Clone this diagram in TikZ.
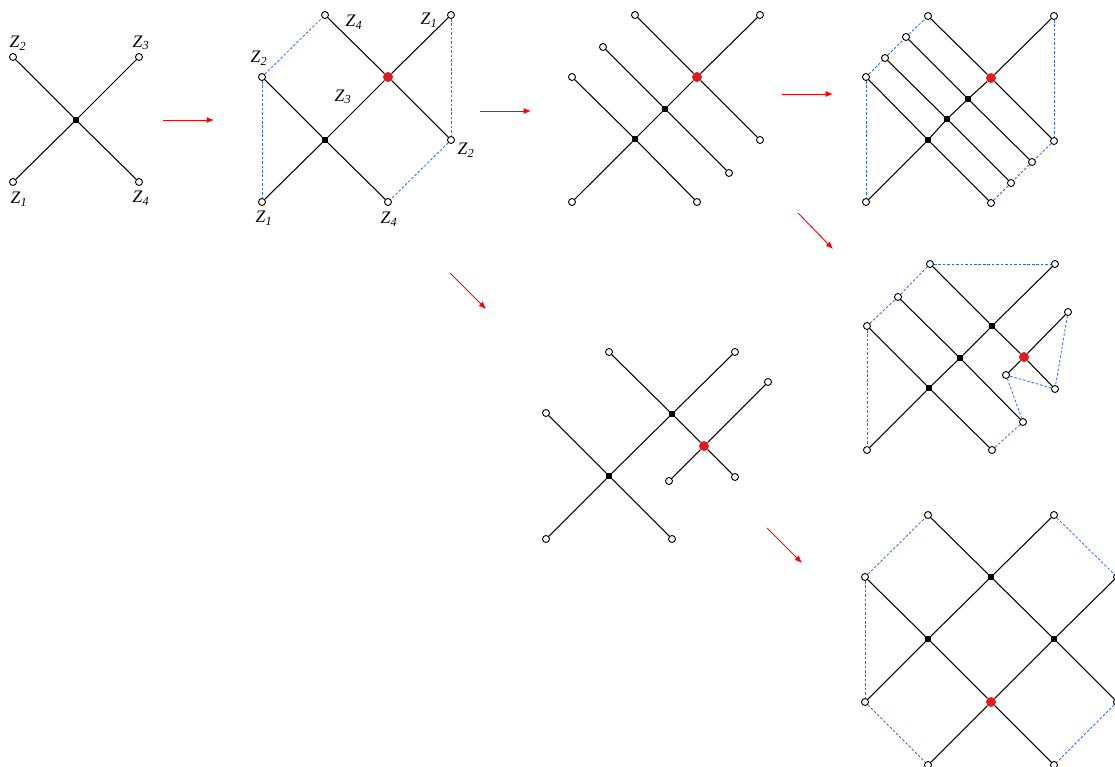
\documentclass[tikz,border=0pt]{standalone}
\usepackage{fontspec}
\setmainfont{Liberation Serif}
\usetikzlibrary{arrows.meta}
\definecolor{LinkBlue}{RGB}{45,105,240}
\definecolor{HitRed}{RGB}{226,28,30}
\newcommand{\zlab}[1]{\textit{Z}\textsubscript{\textit{#1}}}

\begin{document}
\begin{tikzpicture}[x=0.03cm,y=-0.03cm,leg/.style={circle,draw,fill=white,line width=0.8pt,inner sep=0pt,minimum size=0.21cm},vtx/.style={rectangle,fill=black,inner sep=0pt,minimum size=0.16cm},hot/.style={circle,fill=HitRed,inner sep=0pt,minimum size=0.3cm},edge/.style={line width=0.9pt},link/.style={draw=LinkBlue,dash pattern=on 2.2pt off 1.6pt,line width=0.7pt},move/.style={-{Latex[length=2.2mm,width=1.8mm]},draw=red,line width=0.8pt},zl/.style={font=\fontsize{15}{17}\selectfont,inner sep=0pt}]
\path[use as bounding box](0,0) rectangle (1115,767);
% first cross
\node[leg](p1) at (13,182){};
\node[leg](p2) at (13,57){};
\node[leg](p3) at (139,57){};
\node[leg](p4) at (139,182){};
\node[vtx](pc) at (76,120){};
\node[zl] at (18,43){\zlab{2}};
\node[zl] at (141,43){\zlab{3}};
\node[zl] at (19,199){\zlab{1}};
\node[zl] at (141,198){\zlab{4}};
% glued pair
\node[leg](qa) at (325,15){};
\node[leg](qb) at (262,77){};
\node[leg](qc) at (451,15){};
\node[hot](qr) at (388,77){};
\node[vtx](qm) at (325,140){};
\node[leg](qd) at (451,140){};
\node[leg](qe) at (262,202){};
\node[leg](qf) at (388,202){};
\node[zl] at (354,22){\zlab{4}};
\node[zl] at (429,20){\zlab{1}};
\node[zl] at (259,58){\zlab{2}};
\node[zl] at (343,97){\zlab{3}};
\node[zl] at (466,150){\zlab{2}};
\node[zl] at (264,218){\zlab{1}};
\node[zl] at (389,219){\zlab{4}};
% three in a row
\node[leg](ra) at (635,15){};
\node[leg](rb) at (760,15){};
\node[leg](rc) at (603,47){};
\node[leg](rd) at (572,77){};
\node[hot](rr) at (697,77){};
\node[vtx](rm) at (665,109){};
\node[vtx](rn) at (635,139){};
\node[leg](re) at (760,140){};
\node[leg](rf) at (729,173){};
\node[leg](rg) at (572,202){};
\node[leg](rh) at (697,202){};
% four in a row
\node[leg](sa) at (928,16){};
\node[leg](sb) at (1054,16){};
\node[leg](sc) at (906,37){};
\node[leg](sd) at (885,58){};
\node[leg](se) at (866,77){};
\node[hot](sr) at (991,78){};
\node[vtx](sm1) at (968,99){};
\node[vtx](sm2) at (947,119){};
\node[vtx](sm3) at (928,140){};
\node[leg](sf) at (1054,141){};
\node[leg](sg) at (1032,162){};
\node[leg](sh) at (1011,183){};
\node[leg](si) at (866,202){};
\node[leg](sj) at (991,203){};
% bent chain
\node[leg](ta) at (930,264){};
\node[leg](tb) at (1055,264){};
\node[leg](tc) at (898,297){};
\node[leg](td) at (867,326){};
\node[leg](tk) at (1068,312){};
\node[vtx](tm1) at (992,326){};
\node[vtx](tm2) at (960,358){};
\node[hot](tr) at (1024,357){};
\node[leg](tx) at (1006,375){};
\node[leg](tf) at (1055,389){};
\node[vtx](tm3) at (929,388){};
\node[leg](tg) at (1023,422){};
\node[leg](ti) at (867,450){};
\node[leg](tj) at (992,450){};
% side branch
\node[leg](ua) at (609,352){};
\node[leg](ub) at (735,352){};
\node[leg](uk) at (768,382){};
\node[leg](ud) at (546,413){};
\node[vtx](um1) at (672,414){};
\node[hot](ur) at (704,446){};
\node[vtx](um2) at (609,476){};
\node[leg](ux) at (669,481){};
\node[leg](ue) at (735,477){};
\node[leg](ui) at (546,539){};
\node[leg](uj) at (672,539){};
% square lattice
\node[leg](va) at (928,515){};
\node[leg](vb) at (1054,515){};
\node[leg](vc) at (865,577){};
\node[vtx](vm1) at (991,577){};
\node[leg](vd) at (1117,577){};
\node[vtx](vm2) at (928,639){};
\node[vtx](vm3) at (1054,639){};
\node[leg](ve) at (865,702){};
\node[hot](vr) at (991,702){};
\node[leg](vf) at (1117,702){};
\node[leg](vg) at (928,765){};
\node[leg](vh) at (1054,765){};
% arrow ends
\coordinate(m1) at (163,120); \coordinate(n1) at (214,120);
\coordinate(m2) at (480,111); \coordinate(n2) at (531,111);
\coordinate(m3) at (782,94); \coordinate(n3) at (833,94);
\coordinate(m4) at (798,213); \coordinate(n4) at (833,249);
\coordinate(m5) at (450,273); \coordinate(n5) at (486,309);
\coordinate(m6) at (767,528); \coordinate(n6) at (802,563);
\foreach \x/\y in {p2/pc,pc/p4,p1/pc,pc/p3,qa/qr,qr/qd,qb/qm,qm/qf,qe/qm,qm/qr,qr/qc,ra/rr,rr/re,rc/rm,rm/rf,rd/rn,rn/rh,rg/rn,rn/rm,rm/rr,rr/rb,sa/sr,sr/sf,sc/sm1,sm1/sg,sd/sm2,sm2/sh,se/sm3,sm3/sj,si/sm3,sm3/sm2,sm2/sm1,sm1/sr,sr/sb,ta/tm1,tm1/tr,tr/tf,tc/tm2,tm2/tg,td/tm3,tm3/tj,ti/tm3,tm3/tm2,tm2/tm1,tm1/tb,tx/tr,tr/tk,ua/um1,um1/ur,ur/ue,ub/um1,um1/um2,um2/ui,ud/um2,um2/uj,ux/ur,ur/uk,va/vm1,vm1/vm3,vm3/vf,vc/vm2,vm2/vr,vr/vh,vb/vm1,vm1/vm2,vm2/ve,vd/vm3,vm3/vr,vr/vg}{\draw[edge](\x)--(\y);}
\foreach \x/\y in {qb/qa,qb/qe,qc/qd,qd/qf,se/sd,sd/sc,sc/sa,se/si,sb/sf,sf/sg,sg/sh,sh/sj,ta/tb,td/tc,tc/ta,td/ti,tk/tf,tf/tx,tx/tg,tg/tj,vc/va,vc/ve,ve/vg,vb/vd,vf/vh}{\draw[link](\x)--(\y);}
\foreach \x in {1,...,6}{\draw[move](m\x)--(n\x);}
\end{tikzpicture}
\end{document}
